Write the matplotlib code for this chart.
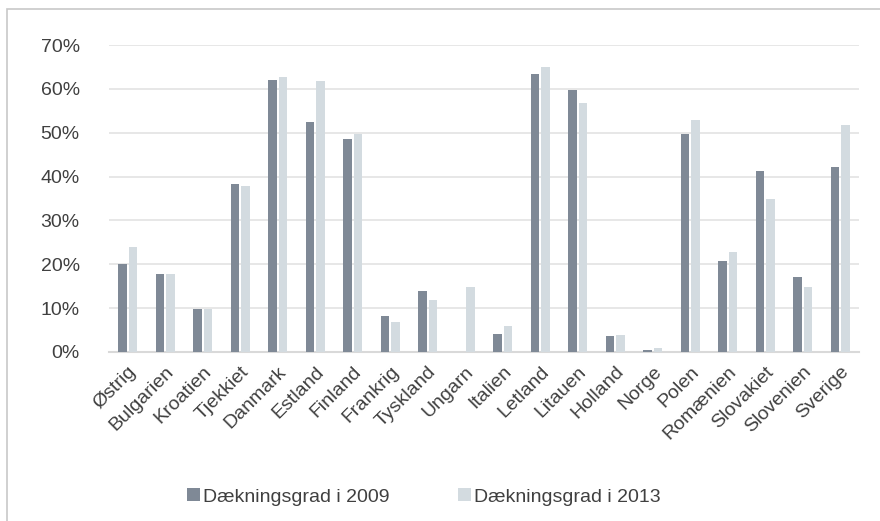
import matplotlib
matplotlib.use('Agg')
import matplotlib.pyplot as plt
import matplotlib.patches as patches
import numpy as np
from matplotlib.ticker import PercentFormatter

plt.rcParams['font.family'] = ['Liberation Sans', 'DejaVu Sans']

lande = ['Østrig', 'Bulgarien', 'Kroatien', 'Tjekkiet', 'Danmark', 'Estland', 'Finland',
         'Frankrig', 'Tyskland', 'Ungarn', 'Italien', 'Letland', 'Litauen', 'Holland',
         'Norge', 'Polen', 'Romænien', 'Slovakiet', 'Slovenien', 'Sverige']
daekning_2009 = [20.1, 17.8, 9.9, 38.2, 62.0, 52.5, 48.6, 8.2, 13.9, 0.0, 4.0,
                 63.5, 59.8, 3.7, 0.5, 49.6, 20.7, 41.3, 17.1, 42.1]
daekning_2013 = [23.9, 17.8, 9.9, 37.9, 62.8, 61.8, 49.8, 6.8, 11.8, 14.8, 5.9,
                 64.9, 56.8, 3.8, 0.8, 52.9, 22.8, 34.8, 14.8, 51.8]

farve_2009 = '#7f8996'
farve_2013 = '#d3dbe0'
tekst = '#404040'

fig = plt.figure(figsize=(8.8, 5.21), dpi=100)
ax = fig.add_axes([109/880, 1-352/521, 750/880, 307/521])

x = np.arange(len(lande))
b = 0.227
ax.bar(x - 0.14, daekning_2009, width=b, color=farve_2009, label='Dækningsgrad i 2009', zorder=3)
ax.bar(x + 0.14, daekning_2013, width=b, color=farve_2013, label='Dækningsgrad i 2013', zorder=3)

ax.set_xlim(-0.5, len(lande) - 0.5)
ax.set_ylim(0, 70)
ax.set_yticks(range(0, 71, 10))
ax.yaxis.set_major_formatter(PercentFormatter(decimals=0))
ax.grid(axis='y', color='#e3e3e3', linewidth=1.2, zorder=0)
for s in ['top', 'right', 'left']:
    ax.spines[s].set_visible(False)
ax.spines['bottom'].set_color('#d9d9d9')
ax.spines['bottom'].set_linewidth(1.5)
ax.tick_params(axis='both', length=0, labelsize=14, colors=tekst)
ax.tick_params(axis='y', pad=21)
ax.set_xticks(x)
ax.set_xticklabels(lande, rotation=45, ha='right', rotation_mode='anchor')
ax.tick_params(axis='x', pad=8)

fig.legend(loc='center', bbox_to_anchor=(424/880, 1-497/521), ncol=2, frameon=False,
           fontsize=14, labelcolor=tekst, handlelength=0.65, handleheight=0.65,
           handletextpad=0.2, columnspacing=3.5)

# ramme
fig.patches.append(patches.Rectangle((7/880, -0.05), 1.0, 1.05 - 9.5/521, transform=fig.transFigure,
                                     fill=False, edgecolor='#c8c8c8', linewidth=1.2))

fig.savefig('out.png', dpi=100)
